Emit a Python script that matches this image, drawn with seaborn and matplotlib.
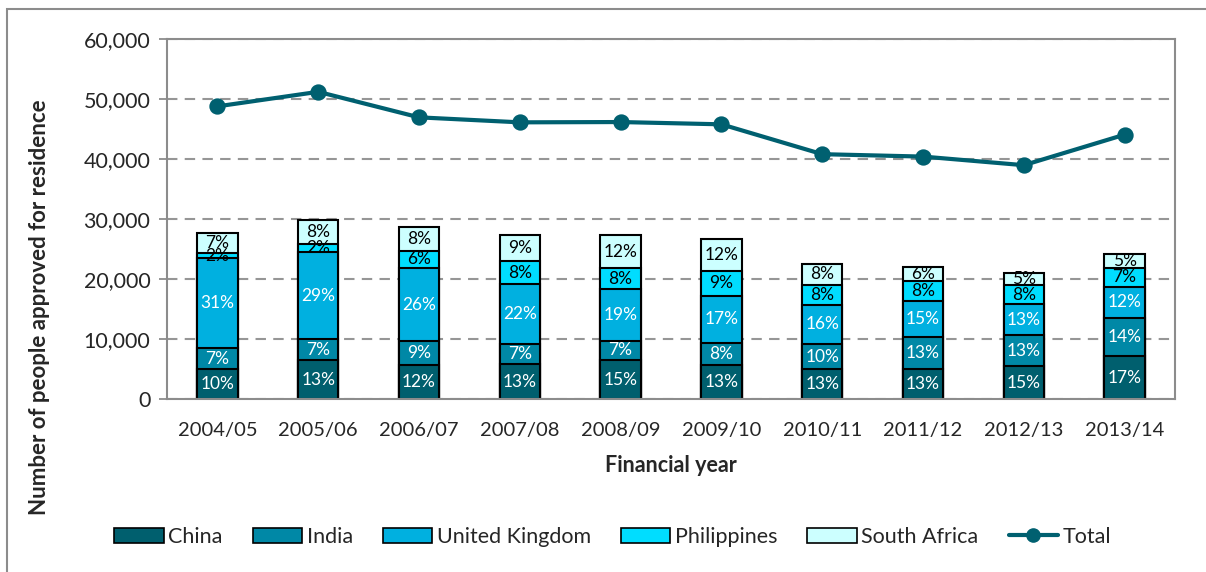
import numpy as np
import pandas as pd
import matplotlib
matplotlib.use('Agg')
import matplotlib.pyplot as plt
import seaborn as sns
from matplotlib.patches import Patch, Rectangle
from matplotlib.lines import Line2D

# Data
years = ['2004/05', '2005/06', '2006/07', '2007/08', '2008/09',
         '2009/10', '2010/11', '2011/12', '2012/13', '2013/14']
china = [5090, 6630, 5690, 5850, 6630, 5690, 5020, 5140, 5580, 7290]
india = [3410, 3370, 3980, 3380, 3150, 3710, 4260, 5300, 5080, 6300]
uk = [14980, 14580, 12260, 10050, 8620, 7840, 6520, 6020, 5250, 5140]
philippines = [940, 1330, 2770, 3710, 3430, 4140, 3210, 3260, 3100, 3200]
south_africa = [3310, 4040, 3980, 4310, 5470, 5360, 3590, 2380, 2040, 2320]
total = [48790, 51210, 46960, 46130, 46180, 45800, 40830, 40430, 39000, 44080]

# Percentage of total shown in each segment
pct_china = [10, 13, 12, 13, 15, 13, 13, 13, 15, 17]
pct_india = [7, 7, 9, 7, 7, 8, 10, 13, 13, 14]
pct_uk = [31, 29, 26, 22, 19, 17, 16, 15, 13, 12]
pct_phil = [2, 2, 6, 8, 8, 9, 8, 8, 8, 7]
pct_sa = [7, 8, 8, 9, 12, 12, 8, 6, 5, 5]

countries = ['China', 'India', 'United Kingdom', 'Philippines', 'South Africa']
colors = ['#005F6E', '#0088A6', '#00B0E0', '#00DDFF', '#CCFFFF']
text_colors = ['white', 'white', 'white', 'black', 'black']
line_color = '#006070'

df = pd.DataFrame({'year': years, 'China': china, 'India': india,
                   'United Kingdom': uk, 'Philippines': philippines,
                   'South Africa': south_africa, 'Total': total})
cum = df[countries].cumsum(axis=1)

sns.set_style('white')
plt.rcParams['font.family'] = ['Lato', 'DejaVu Sans']

fig = plt.figure(figsize=(12.06, 5.72), dpi=100)
ax = fig.add_axes([0.1385, 0.3016, 0.8358, 0.6302])

# stacked bars: draw cumulative heights from the top down
for name, col in reversed(list(zip(countries, colors))):
    sns.barplot(x=df['year'], y=cum[name], color=col, width=0.4,
                edgecolor='black', linewidth=1.5, ax=ax, saturation=1)

# segment labels
pcts = [pct_china, pct_india, pct_uk, pct_phil, pct_sa]
for k, name in enumerate(countries):
    bottoms = cum[name] - df[name]
    for i in range(len(years)):
        y = bottoms[i] + df[name][i] / 2
        ax.text(i, y, f'{pcts[k][i]}%', ha='center', va='center',
                fontsize=12.5, color=text_colors[k])

# total line
sns.pointplot(x=df['year'], y=df['Total'], color=line_color, ax=ax,
              markers='o', linewidth=3, markersize=9.5)
for l in ax.lines:
    l.set_zorder(5)

ax.set_ylim(0, 60000)
ax.set_xlim(-0.5, len(years) - 0.5)
ax.set_yticks(range(0, 60001, 10000))
ax.set_yticklabels([f'{v:,}' for v in range(0, 60001, 10000)], fontsize=15.5)
ax.tick_params(axis='x', labelsize=14.5, length=0, pad=16)
ax.tick_params(axis='y', length=6, width=1.3, color='#8c8c8c', direction='out',
               left=True, pad=6)
ax.yaxis.grid(True, linestyle=(0, (5, 3.5)), color='#969696', linewidth=1.5)
ax.set_axisbelow(True)
for s in ax.spines.values():
    s.set_color('#8c8c8c')
    s.set_linewidth(1.5)
ax.set_xlabel('Financial year', fontsize=15.5, fontweight='bold', labelpad=12)
ax.set_ylabel('')
fig.text(40 / 1206, 1 - 307 / 572, 'Number of people approved for residence',
         rotation=90, ha='center', va='center', fontsize=16, fontweight='bold')

handles = [Patch(facecolor=c, edgecolor='black', linewidth=1.2, label=n)
           for n, c in zip(countries, colors)]
handles.append(Line2D([0], [0], color=line_color, linewidth=3, marker='o',
                      markersize=9.5, label='Total'))
fig.legend(handles=handles, loc='center', ncol=6, frameon=False,
           bbox_to_anchor=(0.508, 1 - 537 / 572), fontsize=15.5,
           handlelength=2.3, handletextpad=0.2, columnspacing=1.4)

# outer chart border
fig.patches.append(Rectangle((7 / 1206, -0.05), 1.2, 1 - 9 / 572 + 0.05,
                             transform=fig.transFigure, fill=False,
                             edgecolor='#8c8c8c', linewidth=1.5))

fig.savefig('out.png', dpi=100)
